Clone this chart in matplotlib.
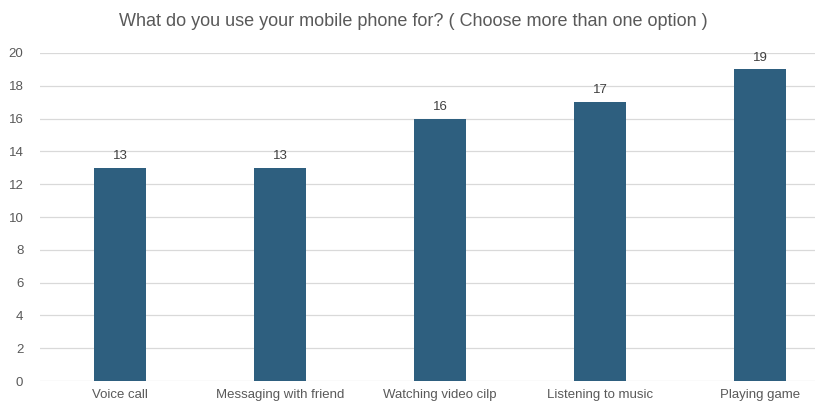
import matplotlib
matplotlib.use("Agg")
from matplotlib import pyplot as plt

categories = ["Voice call", "Messaging with friend", "Watching video cilp",
              "Listening to music", "Playing game"]
counts = [13, 13, 16, 17, 19]
yticks = [0, 2, 4, 6, 8, 10, 12, 14, 16, 18, 20]

plt.rcParams['font.family'] = ['Liberation Sans', 'DejaVu Sans']

fig = plt.figure(figsize=(8.27, 4.03), dpi=100)
ax = fig.add_axes([40 / 827, 1 - 381 / 403, 775 / 827, (381 - 53) / 403])

x = list(range(len(categories)))
bars = ax.bar(x, counts, 0.32, color='#2E5F7F', zorder=3)
for xi, v in zip(x, counts):
    ax.text(xi, v + 0.35, str(v), ha='center', va='bottom', fontsize=9.5, color='#404040')

ax.set_xlim(-0.5, -0.5 + 775 / 160)
ax.set_ylim(0, 20)
ax.set_yticks(yticks)
ax.set_xticks(x)
ax.set_xticklabels(categories)
ax.tick_params(axis='both', length=0, labelsize=9.5, colors='#595959')
ax.tick_params(axis='x', pad=6)
ax.tick_params(axis='y', pad=12)
ax.grid(axis='y', color='#d9d9d9', linewidth=0.9, zorder=0)
for s in ax.spines.values():
    s.set_visible(False)

fig.text(0.5, 1 - 22 / 403, "What do you use your mobile phone for? ( Choose more than one option )",
         ha='center', va='center', fontsize=13, color='#595959')

fig.savefig("out.png", dpi=100)
